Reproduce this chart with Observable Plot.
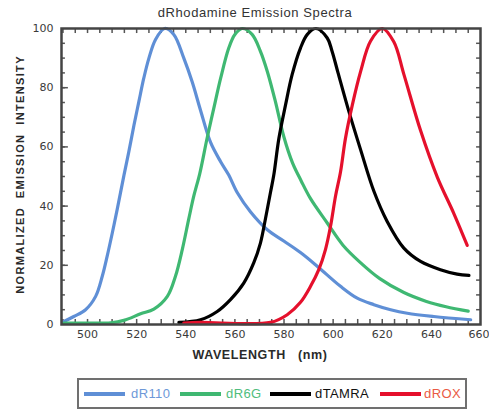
<!DOCTYPE html>
<html><head><meta charset="utf-8">
<script src="https://cdn.jsdelivr.net/npm/d3@7"></script>
<script src="https://cdn.jsdelivr.net/npm/@observablehq/plot@0.6"></script>
<style>
body{margin:0;background:#fff;font-family:"Liberation Sans",Arial,sans-serif;}
#wrap{position:relative;width:489px;height:410px;overflow:hidden;background:#fff;}
#title{position:absolute;top:5px;left:0;width:510px;text-align:center;font-size:13px;color:#333;letter-spacing:0.6px;}
#chart{position:absolute;top:22px;left:0;}
#legend{position:absolute;top:378px;left:77px;width:390px;height:31px;box-sizing:border-box;border:2px solid #707070;}
.sw{position:absolute;height:4px;top:392px;}
.lt{position:absolute;top:386px;font-size:13px;letter-spacing:0.4px;line-height:16px;}
</style></head>
<body><div id="wrap">
<div id="title">dRhodamine Emission Spectra</div>
<div id="chart"></div>
<div id="legend"></div>
</div>
<script>
// ---- data ----
const seriesNames = ["dR110", "dR6G", "dTAMRA", "dROX"];
const seriesColors = ["#5f8fd6", "#3fb872", "#000000", "#e5102c"];
const legendTextColors = ["#6d98d8", "#4fbd7d", "#111111", "#ea5a44"];

const r110_nm  = [490.4,494.4,499.2,503.3,506,508,510.1,512.1,514.8,516.8,518.9,520.9,522.9,525,527.7,531.4,535.1,539.2,542.6,546,550.1,554.2,557.5,561,566.4,573.2,579.9,586.7,593.5,603,609.8,616.6,623.4,630.2,641,656];
const r110_val = [1.0,2.7,5,9.5,16.3,23.1,31,39,50.3,58.3,67.3,75.3,83.2,90,96.3,100,98,90,82,72.4,61.5,55,50.5,44.5,38,32,28.2,24.3,19.7,12.9,8.9,6.7,5,3.8,2.7,1.6];

const r6g_nm  = [490.4,500,509.4,514.8,521.6,527,532.5,535.8,538.6,541.2,543.3,545.7,548.7,551.4,554.2,557.5,560,563,567,570.4,573.2,576.5,579.9,583.5,587,590.8,597.6,604,611,619,628.8,638,646,655];
const r6g_val = [0.5,0.5,0.6,1.4,3.6,5.2,9.5,16.3,25.4,35.6,43.5,51,63,73,83.2,93.4,98,100,98,92.3,85.5,75.3,63.5,54.5,48.5,42.5,34.3,26.8,21,15.5,10.8,7.8,6,4.5];

const tamra_nm  = [537.2,546,552.8,558.2,563.6,567.7,570.4,572.5,574.5,575.8,577.9,580.6,583.3,586.7,589.5,593,597.6,599.5,602,606.4,611.2,616.6,622,628.8,635.6,643.7,650.5,655.3];
const tamra_val = [0.7,1.6,4.4,8.4,14,20.9,27.5,36,44.7,50.3,62.8,74.1,84.4,93.4,98,100,96.8,92.5,85,72,59,45,34.8,25.8,21.3,18.5,17,16.6];

const rox_nm  = [539.2,546,574.5,581.3,586.7,590.8,594.2,596.9,598.9,601,603,605,607.8,611.2,615.2,620,624.7,628.8,635.6,642.4,649.2,654.6];
const rox_val = [0.5,0.7,0.7,3.3,7.5,12.9,18.6,25.4,33,43.5,51.5,62.8,74.1,85.5,95.7,100,95.5,84.5,65.5,49.8,37.4,26.7];

const xTickLabels = [500,520,540,560,580,600,620,640,660];
const yTickLabels = [0,20,40,60,80,100];
const xTitle = "WAVELENGTH   (nm)";
const yTitle = "NORMALIZED  EMISSION  INTENSITY";

// ---- build table ----
const nmArrays = [r110_nm, r6g_nm, tamra_nm, rox_nm];
const valArrays = [r110_val, r6g_val, tamra_val, rox_val];
const rows = [];
seriesNames.forEach((s, i) => nmArrays[i].forEach((nm, j) => rows.push({series: s, nm, val: valArrays[i][j]})));

const xMinor = d3.range(490, 660, 5);
const yMinor = d3.range(5, 100, 5);
const yMajor = [20, 40, 60, 80];
const xMin = 489.4, xMax = 660;

const chart = Plot.plot({
  width: 489, height: 350,
  marginLeft: 61, marginRight: 9, marginTop: 6, marginBottom: 48,
  x: {domain: [xMin, xMax]},
  y: {domain: [0, 100]},
  color: {domain: seriesNames, range: seriesColors},
  style: {fontFamily: "'DejaVu Sans', sans-serif", fontSize: "11px", color: "#3a3a3a", background: "white", overflow: "visible"},
  marks: [
    // inward tick marks
    Plot.ruleX(xMinor, {y1: 0, y2: 1.7, stroke: "#555", strokeWidth: 1.5}),
    Plot.ruleX(xMinor, {y1: 100, y2: 98.3, stroke: "#555", strokeWidth: 1.5}),
    Plot.ruleY(yMinor, {x1: xMin, x2: xMin + 1.6, stroke: "#555", strokeWidth: 1.5}),
    Plot.ruleY(yMajor, {x1: xMin, x2: xMin + 2.8, stroke: "#555", strokeWidth: 1.5}),
    Plot.ruleY(yMinor, {x1: xMax, x2: xMax - 1.6, stroke: "#555", strokeWidth: 1.5}),
    Plot.axisX({ticks: xTickLabels, tickSize: 0, tickPadding: 6, label: null, tickFormat: d => String(d)}),
    Plot.axisY({ticks: yTickLabels, tickSize: 0, tickPadding: 8, label: null}),
    Plot.line(rows, {x: "nm", y: "val", z: "series", stroke: "series", strokeWidth: 3.2, curve: "catmull-rom"}),
    Plot.frame({stroke: "#444", strokeWidth: 2.5}),
    Plot.text([xTitle], {frameAnchor: "bottom", textAnchor: "middle", dx: -11, dy: 34, fontSize: 12.5, fontWeight: "bold", fill: "#2a2a2a", fontFamily: "Liberation Sans"}),
    Plot.text([yTitle], {frameAnchor: "left", textAnchor: "middle", rotate: -90, dx: -41, dy: -2, fontSize: 11, fontWeight: "bold", fill: "#2a2a2a", fontFamily: "Liberation Sans"})
  ]
});
const svg = d3.select(chart);
svg.selectAll("text").filter(function(){return this.textContent === yTitle;}).attr("letter-spacing", "1.35px").style("white-space", "pre");
svg.selectAll("text").filter(function(){return this.textContent === xTitle;}).attr("letter-spacing", "0.6px").style("white-space", "pre");
// keep the last tick label inside the window
svg.selectAll("text").filter(function(){return this.textContent === "660";}).attr("text-anchor", "end").attr("dx", "9");
document.getElementById("chart").appendChild(chart);

// ---- legend ----
const swX = [84, 180, 270, 380];
const txX = [131, 226, 315, 424];
const wrap = document.getElementById("wrap");
seriesNames.forEach((s, i) => {
  const sw = document.createElement("div");
  sw.className = "sw";
  sw.style.left = swX[i] + "px";
  sw.style.width = "41px";
  sw.style.background = seriesColors[i];
  wrap.appendChild(sw);
  const t = document.createElement("div");
  t.className = "lt";
  t.style.left = txX[i] + "px";
  t.style.color = legendTextColors[i];
  t.textContent = s;
  wrap.appendChild(t);
});
</script>
</body></html>
